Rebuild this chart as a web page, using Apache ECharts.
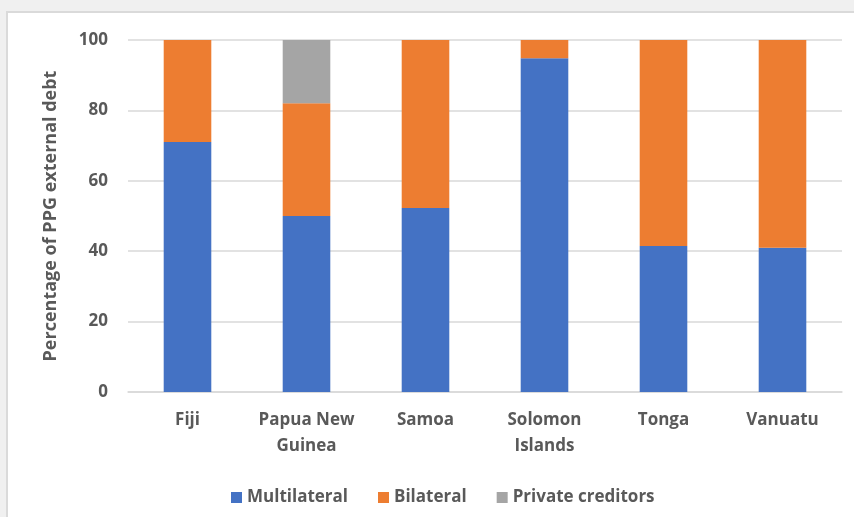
<!DOCTYPE html>
<html>
<head>
<meta charset="utf-8">
<script src="https://cdn.jsdelivr.net/npm/echarts@6/dist/echarts.min.js"></script>
<style>
  html, body { margin: 0; padding: 0; background: #f0f0f0; width: 854px; height: 517px; overflow: hidden; }
  #chart {
    position: absolute; left: 6px; top: 11px;
    width: 848px; height: 506px;
    box-sizing: border-box;
    border-left: 2px solid #dadada; border-top: 2px solid #dadada;
    background: #fff;
  }
</style>
</head>
<body>
<div id="chart"></div>
<script>
const countries = ['Fiji', 'Papua New\nGuinea', 'Samoa', 'Solomon\nIslands', 'Tonga', 'Vanuatu']
const multilateral = [71, 50, 52.3, 94.8, 41.5, 41]
const bilateral = [29, 32, 47.7, 5.2, 58.5, 59]
const privateCreditors = [0, 18, 0, 0, 0, 0]
const yTicks = [0, 20, 40, 60, 80, 100]

const font = '"Open Sans", "Noto Sans", sans-serif'
const txt = '#595959'

const chart = echarts.init(document.getElementById('chart'))

function bar(name, data, color) {
  return {
    name, type: 'bar', stack: 'debt', data,
    barWidth: '40%',
    itemStyle: { color },
    emphasis: { disabled: true }
  }
}

chart.setOption({
  animation: false,
  textStyle: { fontFamily: font },
  grid: { left: 120, top: 27, right: 12, bottom: 125, containLabel: false },
  legend: {
    left: 218, top: 471,
    itemWidth: 11, itemHeight: 11, itemGap: 30,
    icon: 'rect',
    textStyle: { color: txt, fontSize: 17, fontWeight: 'bold', fontFamily: font }
  },
  xAxis: {
    type: 'category',
    data: countries,
    axisTick: { show: false },
    axisLine: { lineStyle: { color: '#d9d9d9', width: 1.5 } },
    axisLabel: { color: txt, fontSize: 17, fontWeight: 'bold', lineHeight: 26, margin: 15, interval: 0 }
  },
  yAxis: {
    type: 'value',
    min: 0, max: 100, interval: 20,
    name: 'Percentage of PPG external debt',
    nameLocation: 'middle',
    nameGap: 68,
    nameTextStyle: { color: txt, fontSize: 18, fontWeight: 'bold' },
    axisLine: { show: false },
    axisTick: { show: false },
    axisLabel: { color: txt, fontSize: 17, fontWeight: 'bold', margin: 20,
      formatter: v => yTicks.includes(v) ? String(v) : '' },
    splitLine: { lineStyle: { color: '#d9d9d9', width: 1.5 } }
  },
  series: [
    bar('Multilateral', multilateral, '#4472C4'),
    bar('Bilateral', bilateral, '#ED7D31'),
    bar('Private creditors', privateCreditors, '#A5A5A5')
  ]
})
</script>
</body>
</html>
